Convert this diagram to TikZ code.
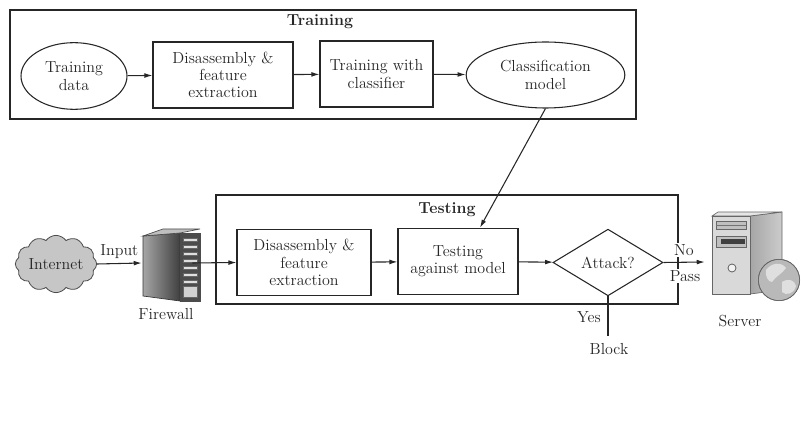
\documentclass[tikz,border=0pt]{standalone}
\usetikzlibrary{arrows.meta,shapes.geometric,shapes.symbols}
\begin{document}
\begin{tikzpicture}[x=0.75pt,y=-0.75pt,
  every node/.style={font=\fontsize{12}{13}\selectfont, text=black!85},
  line/.style={draw=black!85, line width=0.8pt},
  arrow/.style={line, -{Latex[length=6pt,width=3.6pt]}},
  procbox/.style={line, rectangle, align=center, inner sep=2pt},
  oval/.style={line, ellipse, align=center, inner sep=1pt},
  frame/.style={draw=black!85, line width=0.85pt},
  title/.style={font=\fontsize{12}{13}\selectfont\bfseries},
  lbl/.style={inner sep=1pt}
]
\useasboundingbox (0,0) rectangle (801,424);

% ---- training stage ----
\draw[frame] (10,10) rectangle (636,119);
\node[title] (traintitle) at (320,22) {Training};
\node[oval, minimum width=79.5pt, minimum height=50pt] (tdata) at (74,76) {Training\\data};
\node[procbox, minimum width=105pt, minimum height=49.5pt] (dis1) at (223,75) {Disassembly \&\\feature\\extraction};
\node[procbox, minimum width=84.75pt, minimum height=49.5pt] (train) at (376.5,74) {Training with\\classifier};
\node[oval, minimum width=119pt, minimum height=49.5pt] (cmodel) at (545.5,75) {Classification\\model};
\draw[arrow] (tdata) -- (dis1);
\draw[arrow] (dis1) -- (train);
\draw[arrow] (train) -- (cmodel);

% ---- testing stage ----
\draw[frame] (216,195) rectangle (678,304);
\node[title] (testtitle) at (447,210) {Testing};
\node[procbox, minimum width=100.5pt, minimum height=50pt] (dis2) at (304,262.5) {Disassembly \&\\feature\\extraction};
\node[procbox, minimum width=90pt, minimum height=50pt] (test) at (458,261.5) {Testing\\against model};
\node[line, diamond, inner sep=0pt, minimum width=82.5pt, minimum height=50pt] (attack) at (608,262.5) {Attack?};
\draw[arrow] (cmodel.south) -- ([xshift=16.5pt]test.north);
\draw[arrow] (dis2) -- (test);
\draw[arrow] (test) -- (attack);

% ---- internet cloud ----
\node[cloud, cloud puffs=12, cloud puff arc=110, cloud ignores aspect, draw=black!70, line width=0.6pt,
      fill=gray!45, minimum width=61pt, minimum height=43pt, inner sep=0pt] (net) at (56,264) {Internet};

% ---- firewall tower ----
\node[minimum width=43.5pt, minimum height=54pt, inner sep=0pt] (fw) at (171,263) {};
\begin{scope}[draw=black!70, line width=0.5pt]
  \shade[left color=gray!70, right color=black!75, draw=black!80] (143,236) -- (180,233) -- (180,301) -- (143,296) -- cycle;
  \filldraw[fill=gray!50] (143,236) -- (163,229) -- (200,229) -- (180,233) -- cycle;
  \filldraw[fill=black!70] (180,233) rectangle (200,301);
  \foreach \yy in {238,245,252,259,266,273,280} {
    \filldraw[fill=gray!25, draw=black!60] (183,\yy) rectangle (197,\yy+3.5);
  }
  \filldraw[fill=gray!35, draw=black!60] (183,286) rectangle (197,297);
\end{scope}
\node (fwlabel) at (166,314) {Firewall};
\draw[arrow] (net.east) -- node[above, lbl, yshift=2pt] (inlabel) {Input} (fw.west);
\draw[arrow] ([xshift=-6pt]fw.east) -- (dis2.west);

% ---- server tower with globe ----
\node[minimum width=60pt, minimum height=67pt, inner sep=0pt] (sv) at (745,262) {};
\begin{scope}[line width=0.5pt]
  \shade[left color=gray!70, right color=gray!40, draw=black!60] (750,216) -- (782,212) -- (782,290) -- (750,294) -- cycle;
  \filldraw[fill=gray!20, draw=black!60] (712,216) -- (718,212) -- (782,212) -- (750,216) -- cycle;
  \filldraw[fill=gray!30, draw=black!60] (712,216) rectangle (750,294);
  \filldraw[fill=gray!50, draw=black!60] (716,221) rectangle (746,229);
  \draw[black!55] (716,225) -- (746,225);
  \filldraw[fill=gray!50, draw=black!60] (716,236) rectangle (746,247);
  \filldraw[fill=black!75, draw=black!75] (721,239.5) rectangle (744,243);
  \filldraw[fill=gray!10, draw=black!70] (732,268) circle[radius=3pt];
  \filldraw[fill=gray!55, draw=black!60] (779,280) circle[radius=15.5pt];
  \fill[gray!25] (766,270) .. controls (772,262) and (782,262) .. (786,268)
    .. controls (782,274) and (776,276) .. (772,282) .. controls (768,282) and (765,276) .. (766,270) -- cycle;
  \fill[gray!25] (782,282) .. controls (788,278) and (795,280) .. (796,286)
    .. controls (794,294) and (786,296) .. (782,292) -- cycle;
  \draw[black!60] (779,280) circle[radius=15.5pt];
\end{scope}
\node (svlabel) at (740,321) {Server};

% ---- decision outputs ----
\draw[arrow] (attack.east) -- (sv.west);
\node[lbl, fill=white] (nolabel) at (684,250) {No};
\node[lbl, fill=white] (passlabel) at (685,276) {Pass};
\coordinate (blk) at (608,336);
\draw[line] (attack.south) -- (blk);
\node (yeslabel) at (589,317) {Yes};
\node (blocklabel) at (609,349) {Block};
\end{tikzpicture}
\end{document}
